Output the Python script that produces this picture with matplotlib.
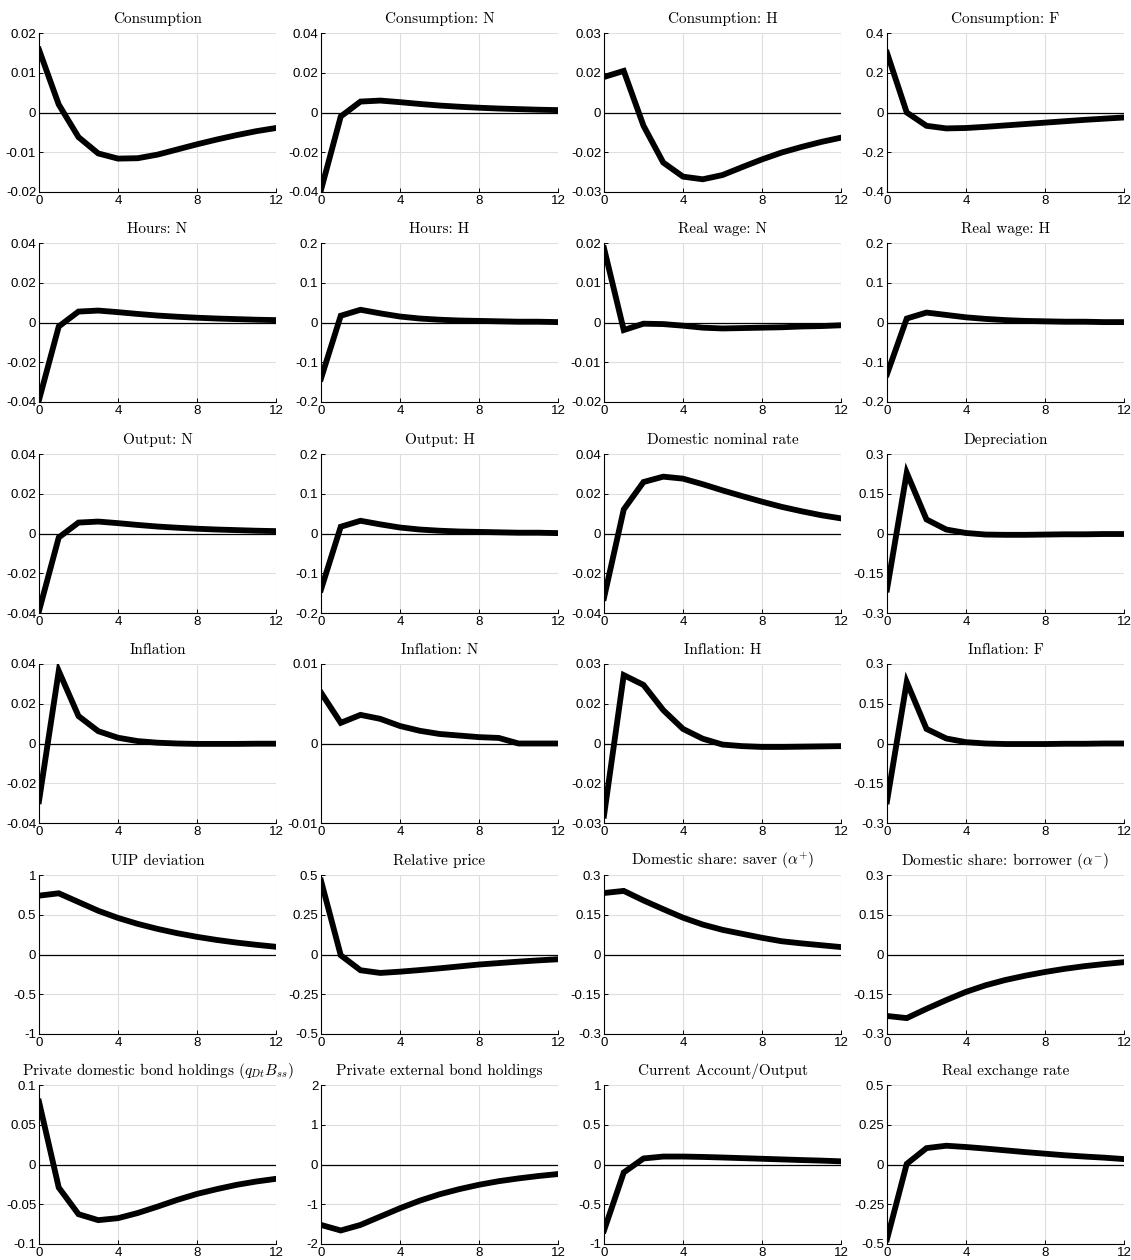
import numpy as np
import matplotlib
matplotlib.use("Agg")
import matplotlib.pyplot as plt

plt.rcParams['mathtext.fontset'] = 'cm'
plt.rcParams['axes.unicode_minus'] = False
plt.rcParams['font.family'] = ['Liberation Sans', 'DejaVu Sans']

# horizon (quarters)
t = np.arange(13)

# impulse responses, one array per panel
cons = [0.0158, 0.0020, -0.0062, -0.0103, -0.0116, -0.0115, -0.0106, -0.0093, -0.0080, -0.0068, -0.0057, -0.0047, -0.0039]
cons_n = [-0.039, -0.002, 0.0055, 0.0060, 0.0052, 0.0043, 0.0035, 0.0029, 0.0024, 0.0020, 0.0017, 0.0014, 0.0012]
cons_h = [0.0134, 0.0157, -0.0050, -0.0189, -0.0242, -0.0252, -0.0236, -0.0206, -0.0177, -0.0151, -0.0130, -0.0111, -0.0095]
cons_f = [0.30, 0.00, -0.067, -0.080, -0.078, -0.072, -0.065, -0.058, -0.051, -0.044, -0.037, -0.031, -0.025]
hours_n = [-0.039, -0.002, 0.0055, 0.0060, 0.0052, 0.0043, 0.0035, 0.0029, 0.0024, 0.0020, 0.0017, 0.0014, 0.0012]
hours_h = [-0.141, 0.017, 0.032, 0.023, 0.015, 0.010, 0.007, 0.005, 0.004, 0.003, 0.002, 0.002, 0.001]
wage_n = [0.0187, -0.0019, -0.0003, -0.0004, -0.0008, -0.0013, -0.0015, -0.0014, -0.0013, -0.0012, -0.0010, -0.0009, -0.0007]
wage_h = [-0.130, 0.010, 0.025, 0.019, 0.013, 0.009, 0.006, 0.004, 0.003, 0.002, 0.002, 0.001, 0.001]
output_n = [-0.039, -0.002, 0.0055, 0.0060, 0.0052, 0.0043, 0.0035, 0.0029, 0.0024, 0.0020, 0.0017, 0.0014, 0.0012]
output_h = [-0.141, 0.017, 0.032, 0.023, 0.015, 0.010, 0.007, 0.005, 0.004, 0.003, 0.002, 0.002, 0.001]
nom_rate = [-0.0324, 0.0121, 0.0259, 0.0286, 0.0276, 0.0248, 0.0217, 0.0188, 0.0160, 0.0134, 0.0112, 0.0092, 0.0076]
deprec = [-0.211, 0.229, 0.053, 0.015, 0.002, -0.004, -0.005, -0.005, -0.004, -0.003, -0.003, -0.002, -0.002]
infl = [-0.029, 0.0365, 0.0138, 0.0062, 0.0029, 0.0012, 0.0004, 0.0000, -0.0002, -0.0002, -0.0002, -0.0001, -0.0001]
infl_n = [0.0064, 0.0026, 0.0036, 0.0031, 0.0022, 0.0016, 0.0012, 0.0010, 0.0008, 0.0007, 0.0, 0.0, 0.0]
infl_h = [-0.0272, 0.0258, 0.0221, 0.0126, 0.0055, 0.0018, -0.0004, -0.0010, -0.0013, -0.0013, -0.0012, -0.0011, -0.0010]
infl_f = [-0.218, 0.232, 0.055, 0.019, 0.005, 0.000, -0.002, -0.002, -0.002, -0.001, -0.001, 0.000, 0.000]
uip = [0.74, 0.77, 0.66, 0.550, 0.460, 0.385, 0.322, 0.268, 0.222, 0.183, 0.150, 0.122, 0.097]
rel_price = [0.464, -0.005, -0.099, -0.116, -0.108, -0.098, -0.087, -0.075, -0.063, -0.054, -0.045, -0.037, -0.030]
share_saver = [0.232, 0.240, 0.204, 0.171, 0.139, 0.113, 0.093, 0.078, 0.063, 0.050, 0.042, 0.035, 0.028]
share_borrower = [-0.232, -0.240, -0.205, -0.172, -0.141, -0.116, -0.096, -0.080, -0.066, -0.054, -0.044, -0.036, -0.029]
dom_bonds = [0.079, -0.029, -0.0625, -0.070, -0.0675, -0.061, -0.053, -0.0445, -0.037, -0.031, -0.0256, -0.0214, -0.018]
ext_bonds = [-1.52, -1.66, -1.52, -1.31, -1.10, -0.91, -0.75, -0.62, -0.51, -0.42, -0.35, -0.29, -0.24]
ca_output = [-0.83, -0.10, 0.076, 0.100, 0.100, 0.095, 0.088, 0.080, 0.072, 0.064, 0.056, 0.049, 0.040]
rer = [-0.47, 0.004, 0.103, 0.118, 0.110, 0.100, 0.089, 0.078, 0.068, 0.058, 0.050, 0.043, 0.034]

titles = ['Consumption', 'Consumption: N', 'Consumption: H', 'Consumption: F',
          'Hours: N', 'Hours: H', 'Real wage: N', 'Real wage: H',
          'Output: N', 'Output: H', 'Domestic nominal rate', 'Depreciation',
          'Inflation', 'Inflation: N', 'Inflation: H', 'Inflation: F',
          'UIP deviation', 'Relative price',
          r'Domestic share: saver ($\alpha^{+}$)', r'Domestic share: borrower ($\alpha^{-}$)',
          r'Private domestic bond holdings ($q_{Dt}B_{ss}$)', 'Private external bond holdings',
          'Current Account/Output', 'Real exchange rate']
series = [cons, cons_n, cons_h, cons_f,
          hours_n, hours_h, wage_n, wage_h,
          output_n, output_h, nom_rate, deprec,
          infl, infl_n, infl_h, infl_f,
          uip, rel_price, share_saver, share_borrower,
          dom_bonds, ext_bonds, ca_output, rer]
# y ticks per panel (symmetric limits)
yticks = [[-0.02, -0.01, 0, 0.01, 0.02], [-0.04, -0.02, 0, 0.02, 0.04],
          [-0.03, -0.015, 0, 0.015, 0.03], [-0.4, -0.2, 0, 0.2, 0.4],
          [-0.04, -0.02, 0, 0.02, 0.04], [-0.2, -0.1, 0, 0.1, 0.2],
          [-0.02, -0.01, 0, 0.01, 0.02], [-0.2, -0.1, 0, 0.1, 0.2],
          [-0.04, -0.02, 0, 0.02, 0.04], [-0.2, -0.1, 0, 0.1, 0.2],
          [-0.04, -0.02, 0, 0.02, 0.04], [-0.3, -0.15, 0, 0.15, 0.3],
          [-0.04, -0.02, 0, 0.02, 0.04], [-0.01, 0, 0.01],
          [-0.03, -0.015, 0, 0.015, 0.03], [-0.3, -0.15, 0, 0.15, 0.3],
          [-1, -0.5, 0, 0.5, 1], [-0.5, -0.25, 0, 0.25, 0.5],
          [-0.3, -0.15, 0, 0.15, 0.3], [-0.3, -0.15, 0, 0.15, 0.3],
          [-0.1, -0.05, 0, 0.05, 0.1], [-2, -1, 0, 1, 2],
          [-1, -0.5, 0, 0.5, 1], [-0.5, -0.25, 0, 0.25, 0.5]]


def fmt(v):
    # two decimals, halves rounded away from zero
    if v == 0:
        return '0'
    s = '%.2f' % (v + np.sign(v) * 1e-9)
    return s.rstrip('0').rstrip('.')


W, H = 1131, 1260
fig = plt.figure(figsize=(W / 100, H / 100), dpi=100)
lefts = [39, 321, 604, 887]
tops = [33, 243, 454, 664, 875, 1085]
aw, ah = 237, 159

for k in range(24):
    r, c = divmod(k, 4)
    ax = fig.add_axes([lefts[c] / W, 1 - (tops[r] + ah) / H, aw / W, ah / H])
    yt = yticks[k]
    ax.set_xlim(0, 12)
    ax.set_ylim(yt[0], yt[-1])
    ax.set_xticks([0, 4, 8, 12])
    ax.set_yticks(yt)
    ax.set_yticklabels([fmt(v) for v in yt])
    ax.grid(True, color='#dedede', linewidth=0.8)
    ax.set_axisbelow(True)
    ax.axhline(0, color='black', linewidth=0.9, zorder=2)
    ax.plot(t, series[k], color='black', linewidth=4.2, solid_joinstyle='miter', zorder=3)
    for s in ['top', 'right']:
        ax.spines[s].set_visible(False)
    for s in ['left', 'bottom']:
        ax.spines[s].set_linewidth(0.8)
    ax.tick_params(direction='in', length=3, width=0.7, labelsize=9.5, pad=2)
    ax.set_title(titles[k], family='cmr10', fontsize=11, pad=7)

fig.savefig('out.png', dpi=100)
